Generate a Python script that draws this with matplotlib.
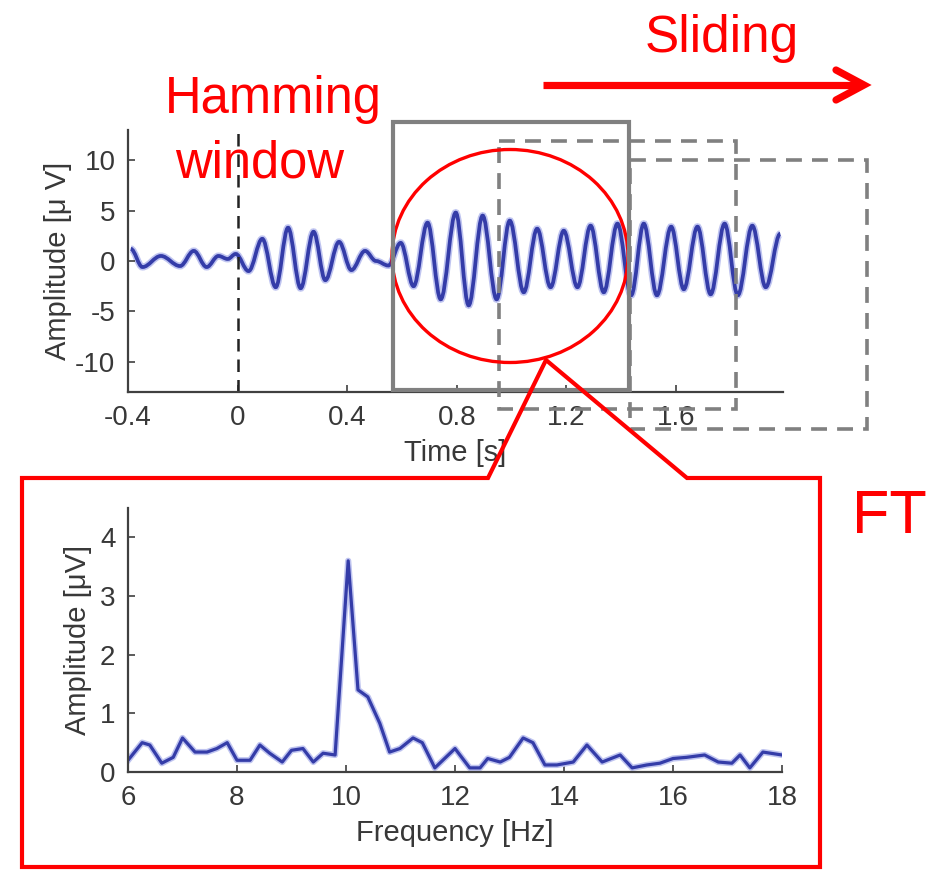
import matplotlib
matplotlib.use("Agg")
import matplotlib.pyplot as plt
from matplotlib.path import Path
from matplotlib.patches import PathPatch, Rectangle, Ellipse, Polygon

plt.rcParams['font.family'] = ['Liberation Sans', 'DejaVu Sans']

# time signal: local extrema (time [s], amplitude [uV])
sig_time = [-0.39, -0.347, -0.28, -0.21, -0.16, -0.113, -0.07, -0.036, -0.007, 0.04,
            0.09, 0.139, 0.184, 0.23, 0.277, 0.32, 0.37, 0.415, 0.465, 0.505,
            0.55, 0.595, 0.642, 0.693, 0.741, 0.796, 0.843, 0.894, 0.945, 0.993,
            1.044, 1.093, 1.142, 1.19, 1.24, 1.288, 1.336, 1.386, 1.436, 1.482,
            1.53, 1.582, 1.628, 1.678, 1.726, 1.777, 1.825, 1.878, 1.927, 1.98]
sig_amp = [1.2, -0.6, 0.5, -0.5, 1.0, -0.6, 0.5, 0.2, 0.7, -1.0,
           2.2, -2.6, 3.3, -2.7, 2.9, -1.9, 1.9, -0.9, 1.0, 0.0,
           -0.45, 1.8, -2.5, 3.8, -3.8, 4.8, -4.4, 4.5, -3.8, 4.0,
           -3.1, 3.2, -2.6, 3.0, -2.6, 3.5, -3.1, 3.7, -3.4, 3.7,
           -3.4, 3.4, -2.8, 3.4, -3.3, 3.7, -3.4, 3.5, -2.6, 2.7]
time_ticks = [-0.4, 0, 0.4, 0.8, 1.2, 1.6]
amp_ticks = [-10, -5, 0, 5, 10]
stim_time = 0.0

# spectrum of the windowed segment
freq = [6.0, 6.26, 6.4, 6.62, 6.83, 7.0, 7.23, 7.45, 7.63, 7.82,
        8.0, 8.24, 8.42, 8.6, 8.83, 9.0, 9.21, 9.4, 9.58, 9.8,
        10.04, 10.22, 10.4, 10.62, 10.8, 10.99, 11.23, 11.4, 11.63, 12.0,
        12.27, 12.46, 12.6, 12.83, 13.0, 13.25, 13.43, 13.65, 13.87, 14.17,
        14.42, 14.7, 15.03, 15.25, 15.52, 15.76, 16.0, 16.25, 16.58, 16.83,
        17.08, 17.23, 17.41, 17.65, 18.0]
spec_amp = [0.2, 0.5, 0.46, 0.15, 0.25, 0.58, 0.34, 0.34, 0.4, 0.5,
            0.2, 0.2, 0.46, 0.32, 0.17, 0.37, 0.4, 0.17, 0.32, 0.29,
            3.6, 1.4, 1.28, 0.83, 0.34, 0.4, 0.58, 0.5, 0.07, 0.4,
            0.07, 0.07, 0.23, 0.17, 0.25, 0.58, 0.5, 0.12, 0.12, 0.17,
            0.46, 0.17, 0.29, 0.07, 0.12, 0.15, 0.23, 0.25, 0.29, 0.17,
            0.15, 0.29, 0.07, 0.34, 0.29]
freq_ticks = [6, 8, 10, 12, 14, 16, 18]
spec_ticks = [0, 1, 2, 3, 4]

W, H = 941, 871
RED = "#ff0000"
GRAY = "#808080"
AXC = "#404040"
BLUE = "#343ca8"


def smooth_path(xs, ys, k=0.36):
    # cubic bezier through the extrema, flat tangent at each one
    verts = [(xs[0], ys[0])]
    codes = [Path.MOVETO]
    for i in range(len(xs) - 1):
        dx = xs[i + 1] - xs[i]
        verts += [(xs[i] + k * dx, ys[i]), (xs[i + 1] - k * dx, ys[i + 1]), (xs[i + 1], ys[i + 1])]
        codes += [Path.CURVE4] * 3
    return Path(verts, codes)


def style_axes(ax):
    for s in ["top", "right"]:
        ax.spines[s].set_visible(False)
    for s in ["left", "bottom"]:
        ax.spines[s].set_color(AXC)
        ax.spines[s].set_linewidth(1.6)
    ax.tick_params(direction="in", length=5, width=1.2, color=AXC,
                   labelsize=20, labelcolor="#383838", pad=9)


fig = plt.figure(figsize=(W / 100, H / 100), dpi=100)

# top: time signal
ax1 = fig.add_axes([128 / W, 1 - 392 / H, (783 - 128) / W, (392 - 130) / H])
ax1.add_patch(PathPatch(smooth_path(sig_time, sig_amp), fill=False, ec="#bfc4f0", lw=5.0))
ax1.add_patch(PathPatch(smooth_path(sig_time, sig_amp), fill=False, ec=BLUE, lw=2.7))
ax1.axvline(stim_time, color="#222222", lw=1.8, dashes=(5.0, 3.2))
ax1.set_xlim(-0.4, 1.99)
ax1.set_ylim(-13, 13)
ax1.set_xticks(time_ticks)
ax1.set_xticklabels(["-0.4", "0", "0.4", "0.8", "1.2", "1.6"])
ax1.set_yticks(amp_ticks)
ax1.set_yticklabels([str(v) for v in amp_ticks])
ax1.set_xlabel("Time [s]", fontsize=21, color="#383838", labelpad=6)
ax1.set_ylabel("Amplitude [\u03bc V]", fontsize=21, color="#383838", labelpad=2)
style_axes(ax1)

# bottom: spectrum
ax2 = fig.add_axes([128 / W, 1 - 772 / H, (782 - 128) / W, (772 - 508) / H])
ax2.plot(freq, spec_amp, color="#bfc4f0", lw=4.5, solid_joinstyle="round")
ax2.plot(freq, spec_amp, color=BLUE, lw=2.3, solid_joinstyle="round")
ax2.set_xlim(6, 18)
ax2.set_ylim(0, 4.5)
ax2.set_xticks(freq_ticks)
ax2.set_yticks(spec_ticks)
ax2.set_xlabel("Frequency [Hz]", fontsize=21, color="#383838", labelpad=6)
ax2.set_ylabel("Amplitude [\u03bcV]", fontsize=21, color="#383838", labelpad=6)
style_axes(ax2)

# diagram overlay in figure pixels
ov = fig.add_axes([0, 0, 1, 1], zorder=10)
ov.set_xlim(0, W)
ov.set_ylim(H, 0)
ov.axis("off")
ov.patch.set_visible(False)

ov.add_patch(Rectangle((630, 160), 237, 269, fill=False, ec=GRAY, lw=2.6,
                       ls=(0, (4.4, 2.8))))
ov.add_patch(Rectangle((499, 141), 237, 268, fill=False, ec=GRAY, lw=2.6,
                       ls=(0, (4.4, 2.8))))
ov.add_patch(Ellipse((510, 256), 236, 213, fill=False, ec=RED, lw=2.4))
ov.add_patch(Rectangle((393, 122), 236, 268, fill=False, ec=GRAY, lw=3.0))

callout = [(488, 478), (22, 478), (22, 867), (820, 867), (820, 478), (687, 478), (546, 360)]
ov.add_patch(Polygon(callout, closed=True, fill=False, ec=RED, lw=3.0, joinstyle="miter"))

# sliding arrow
ov.plot([543, 860], [85, 85], color=RED, lw=5.2, solid_capstyle="butt")
ov.plot([836, 864, 836], [70, 85, 100], color=RED, lw=5.2,
        solid_capstyle="round", solid_joinstyle="miter")

ov.text(722, 52, "Sliding", color=RED, fontsize=37, ha="center", va="baseline")
ov.text(273, 113, "Hamming", color=RED, fontsize=36.5, ha="center", va="baseline")
ov.text(260, 178, "window", color=RED, fontsize=36.5, ha="center", va="baseline")
ov.text(889, 533, "FT", color=RED, fontsize=44, ha="center", va="baseline")

fig.savefig("out.png", dpi=100, facecolor="white")
